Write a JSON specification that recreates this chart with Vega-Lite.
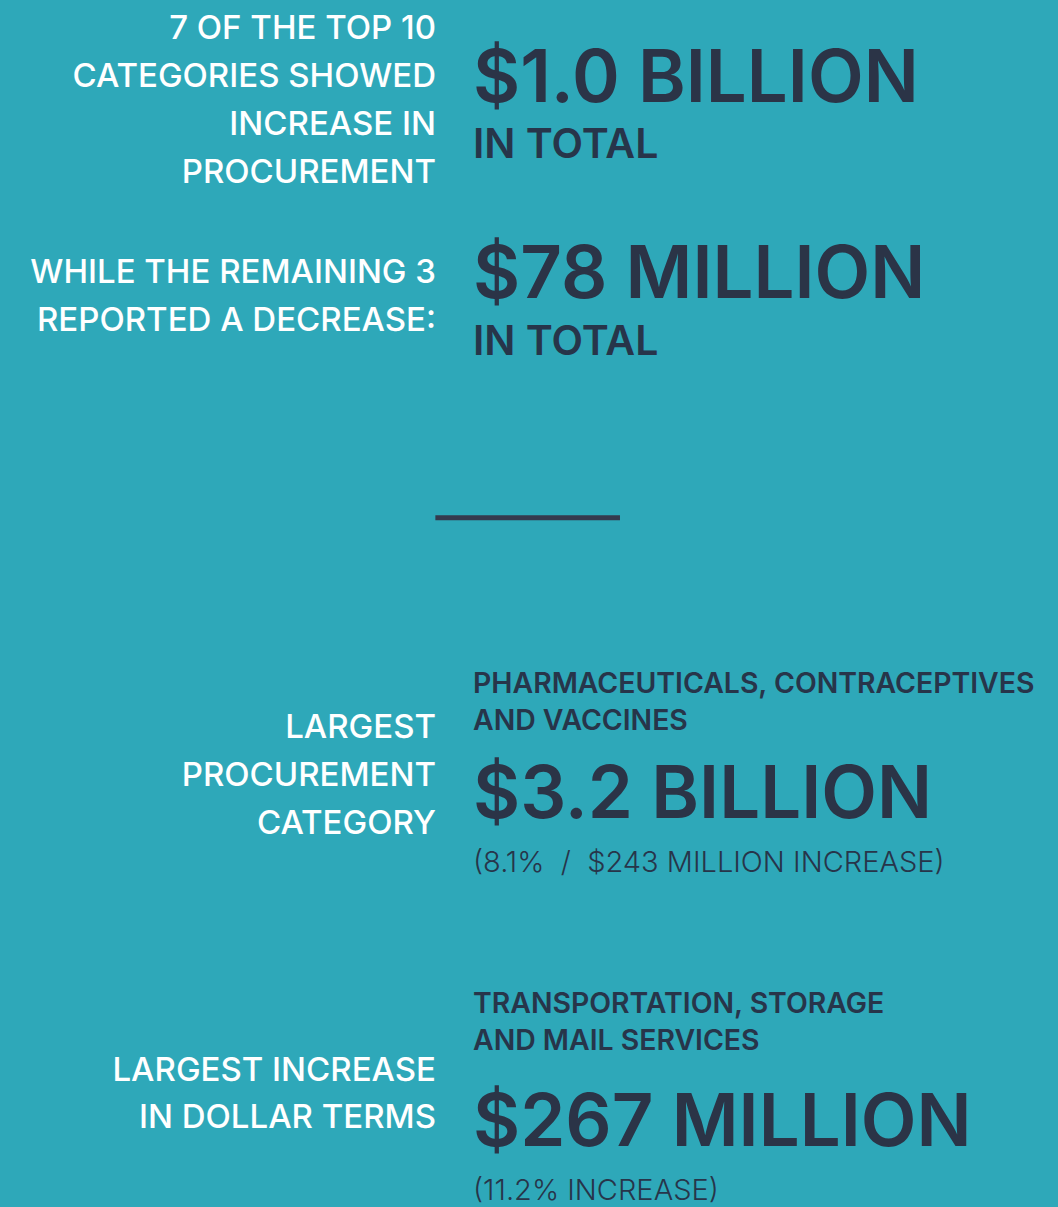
{
  "$schema": "https://vega.github.io/schema/vega-lite/v6.json",
  "width": 1058,
  "height": 1207,
  "padding": 0,
  "autosize": {"type": "fit", "contains": "padding"},
  "background": "#2EA8B9",
  "config": {"view": {"stroke": null}},
  "data": {"values": [
    {"text": "7 OF THE TOP 10", "role": "label", "side": "label", "pos": 3.23},
    {"text": "CATEGORIES SHOWED", "role": "label", "side": "label", "pos": 7.21},
    {"text": "INCREASE IN", "role": "label", "side": "label", "pos": 11.18},
    {"text": "PROCUREMENT", "role": "label", "side": "label", "pos": 15.16},
    {"text": "WHILE THE REMAINING 3", "role": "label", "side": "label", "pos": 23.45},
    {"text": "REPORTED A DECREASE:", "role": "label", "side": "label", "pos": 27.51},
    {"text": "LARGEST", "role": "label", "side": "label", "pos": 61.23},
    {"text": "PROCUREMENT", "role": "label", "side": "label", "pos": 65.2},
    {"text": "CATEGORY", "role": "label", "side": "label", "pos": 69.18},
    {"text": "LARGEST INCREASE", "role": "label", "side": "label", "pos": 89.73},
    {"text": "IN DOLLAR TERMS", "role": "label", "side": "label", "pos": 93.62},
    {"text": "$1.0 BILLION", "role": "big", "side": "value", "pos": 8.45},
    {"text": "IN TOTAL", "role": "total", "side": "value", "pos": 13.09},
    {"text": "$78 MILLION", "role": "big", "side": "value", "pos": 24.77},
    {"text": "IN TOTAL", "role": "total", "side": "value", "pos": 29.49},
    {"text": "PHARMACEUTICALS, CONTRACEPTIVES", "role": "category", "side": "value", "pos": 57.5},
    {"text": "AND VACCINES", "role": "category", "side": "value", "pos": 60.56},
    {"text": "$3.2 BILLION", "role": "big", "side": "value", "pos": 67.85},
    {"text": "(8.1%\u00a0\u00a0/\u00a0\u00a0$243 MILLION INCREASE)", "role": "note", "side": "value", "pos": 72.33},
    {"text": "TRANSPORTATION, STORAGE", "role": "category", "side": "value", "pos": 84.09},
    {"text": "AND MAIL SERVICES", "role": "category", "side": "value", "pos": 87.16},
    {"text": "$267 MILLION", "role": "big", "side": "value", "pos": 95.11},
    {"text": "(11.2% INCREASE)", "role": "note", "side": "value", "pos": 99.59}
  ]},
  "layer": [
    {
      "layer": [
        {"transform": [{"filter": "datum.role === 'label'"}],
         "mark": {"type": "text", "align": "right", "baseline": "alphabetic", "font": "Inter", "fontWeight": 500, "fontSize": 33, "color": "#FFFFFF"}},
        {"transform": [{"filter": "datum.role === 'big'"}],
         "mark": {"type": "text", "align": "left", "baseline": "alphabetic", "font": "Inter", "fontWeight": 600, "fontSize": 72.5, "color": "#2B3447"}},
        {"transform": [{"filter": "datum.role === 'total'"}],
         "mark": {"type": "text", "align": "left", "baseline": "alphabetic", "font": "Inter", "fontWeight": 600, "fontSize": 41, "color": "#27354A"}},
        {"transform": [{"filter": "datum.role === 'category'"}],
         "mark": {"type": "text", "align": "left", "baseline": "alphabetic", "font": "Inter", "fontWeight": 600, "fontSize": 28.4, "color": "#27354A"}},
        {"transform": [{"filter": "datum.role === 'note'"}],
         "mark": {"type": "text", "align": "left", "baseline": "alphabetic", "font": "Inter", "fontWeight": 300, "fontSize": 29, "color": "#27354A"}}
      ],
      "encoding": {
        "x": {"field": "side", "type": "nominal", "scale": {"domain": ["label", "value"], "range": [436, 473], "padding": 0}, "axis": null},
        "y": {"field": "pos", "type": "quantitative", "scale": {"domain": [0, 100], "reverse": true, "nice": false, "zero": false}, "axis": null},
        "text": {"field": "text"}
      }
    },
    {
      "data": {"values": [{"divider": "section break", "start": 41.15, "end": 58.6, "pos": 42.96}]},
      "mark": {"type": "rule", "color": "#343A4E", "strokeWidth": 5},
      "encoding": {
        "x": {"field": "start", "type": "quantitative", "scale": {"domain": [0, 100], "nice": false, "zero": false}, "axis": null},
        "x2": {"field": "end"},
        "y": {"field": "pos", "type": "quantitative", "axis": null}
      }
    }
  ],
  "resolve": {"scale": {"x": "independent"}}
}
